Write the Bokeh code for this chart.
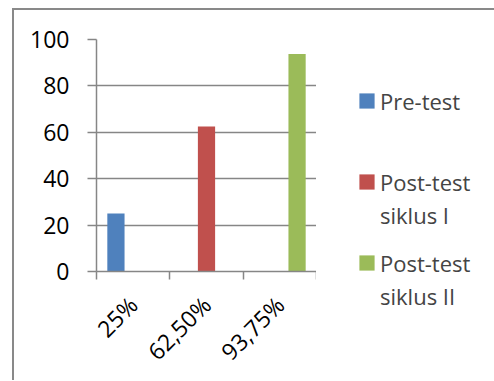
import math
import numpy as np
from bokeh.plotting import figure
from bokeh.layouts import row
from bokeh.models import (ColumnDataSource, Range1d, LinearAxis,
                          FixedTicker, Legend, LegendItem)
from bokeh.transform import dodge
from bokeh.embed import file_html
from bokeh.resources import INLINE

# ---- data ----
categories = ["25%", "62,50%", "93,75%"]
series_lines = [["Pre-test"], ["Post-test", "siklus I"], ["Post-test", "siklus II"]]
pre_test = [25, None, None]
post_test_1 = [None, 62.5, None]
post_test_2 = [None, None, 93.75]
series_colors = ["#4F81BD", "#C0504D", "#9BBB59"]
y_ticks = [0, 20, 40, 60, 80, 100]

FONT = "Open Sans"
FS = "22px"
GRAY = "#868686"


def nanify(v):
    return [np.nan if x is None else float(x) for x in v]


n = len(categories)
centers = [i + 0.5 for i in range(n)]
source = ColumnDataSource(dict(x=centers, cat=categories, s0=nanify(pre_test),
                               s1=nanify(post_test_1), s2=nanify(post_test_2)))

# ---------------- main chart ----------------
p = figure(x_range=Range1d(0, n), y_range=Range1d(0, 100),
           width=302, height=370, min_border_left=82, min_border_right=0,
           min_border_top=29, min_border_bottom=108,
           output_backend="svg", toolbar_location=None, x_axis_location=None,
           y_axis_location="left")
p.outline_line_color = None
p.background_fill_color = "white"
p.border_fill_color = "white"

bw = 0.235
offsets = [-bw, 0.0, bw]
for i, col in enumerate(["s0", "s1", "s2"]):
    p.vbar(x=dodge("x", offsets[i]), top=col, width=bw,
           source=source, fill_color=series_colors[i], line_color=None)

ya = p.yaxis[0]
ya.ticker = FixedTicker(ticks=y_ticks)
ya.minor_tick_line_color = None
ya.major_tick_out = 9
ya.major_tick_in = 0
ya.axis_line_color = GRAY
ya.axis_line_width = 1.5
ya.major_tick_line_color = GRAY
ya.major_tick_line_width = 1.5
ya.major_label_text_font = FONT
ya.major_label_text_font_size = "23px"
ya.major_label_text_color = "black"
ya.major_label_standoff = 18

p.ygrid.ticker = FixedTicker(ticks=y_ticks)
p.ygrid.grid_line_color = GRAY
p.ygrid.grid_line_width = 1.5
p.xgrid.visible = False

# boundary ticks between categories
bax = LinearAxis(ticker=FixedTicker(ticks=list(range(n + 1))),
                 major_label_overrides={i: "" for i in range(n + 1)})
bax.major_tick_out = 8
bax.major_tick_in = 0
bax.minor_tick_line_color = None
bax.axis_line_color = GRAY
bax.axis_line_width = 1.5
bax.major_tick_line_color = GRAY
bax.major_tick_line_width = 1.5
bax.major_label_standoff = 0
bax.major_label_text_font_size = "0px"
p.add_layout(bax, "below")

# category labels at the centres, rotated
cax = LinearAxis(ticker=FixedTicker(ticks=centers),
                 major_label_overrides={c: lab for c, lab in zip(centers, categories)})
cax.axis_line_color = None
cax.major_tick_line_color = None
cax.minor_tick_line_color = None
cax.major_tick_out = 0
cax.major_tick_in = 0
cax.major_label_orientation = math.pi / 4
cax.major_label_text_font = FONT
cax.major_label_text_font_size = "23px"
cax.major_label_text_color = "black"
cax.major_label_standoff = 21
p.add_layout(cax, "below")

# ---------------- legend panel ----------------
pl = figure(x_range=Range1d(0, 1), y_range=Range1d(0, 1), width=178, height=370,
            min_border=0, output_backend="svg", toolbar_location=None,
            x_axis_location=None, y_axis_location=None)
pl.frame_align = False
pl.outline_line_color = None
pl.grid.visible = False
pl.background_fill_color = "white"
pl.border_fill_color = "white"

hidden = ColumnDataSource(dict(x=[np.nan], top=[np.nan]))
blank = pl.vbar(x="x", top="top", width=0.1, source=hidden,
                fill_color=None, line_color=None)
leg_pos = [(41, 263), (41, 149), (41, 68)]
for i, lines in enumerate(series_lines):
    r = pl.vbar(x="x", top="top", width=0.1, source=hidden,
                fill_color=series_colors[i], line_color=None)
    items = [LegendItem(label=lines[0], renderers=[r])]
    for extra in lines[1:]:
        items.append(LegendItem(label=extra, renderers=[blank]))
    lg = Legend(items=items, location=leg_pos[i], glyph_width=19, glyph_height=19,
                label_text_font=FONT, label_text_font_size=FS,
                label_text_line_height=1.0, label_standoff=4, label_height=33,
                padding=0, margin=0, spacing=0,
                border_line_color=None, background_fill_alpha=0)
    pl.add_layout(lg, "center")

layout = row(p, pl)
layout.styles = {"border-top": "2px solid #898989", "border-left": "2px solid #898989",
                 "margin-left": "12px", "margin-top": "8px"}

open("out.html", "w").write(file_html(layout, INLINE))
